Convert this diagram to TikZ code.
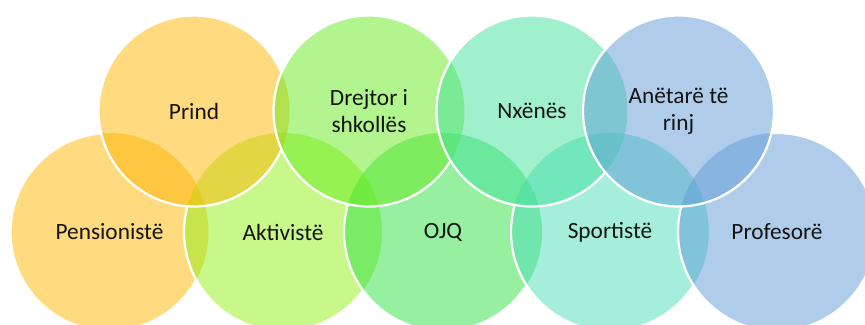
\documentclass[tikz,border=0pt]{standalone}
\usepackage{fontspec}
\setmainfont{Carlito}
\definecolor{cyel}{RGB}{255,181,0}
\definecolor{cakt}{RGB}{145,239,21}
\definecolor{cdre}{RGB}{101,235,31}
\definecolor{cojq}{RGB}{45,225,65}
\definecolor{cnxe}{RGB}{65,225,155}
\definecolor{cspo}{RGB}{75,221,185}
\definecolor{cblu}{RGB}{95,155,215}
\newcommand{\cutaway}[2]{\clip (-50,-50) rectangle (950,400) (#1) circle (#2);}
\begin{document}
\begin{tikzpicture}[x=0.75pt,y=0.75pt,
  blob/.style={fill opacity=0.5},
  ring/.style={draw=white, line width=1.7pt},
  lab/.style={font=\fontsize{17.5}{20}\selectfont, align=center, text=black!92, inner sep=0pt}]
\useasboundingbox (0,0) rectangle (865,325);
\def\rt{95.5}
\def\rb{99}
% coordinates of circle centres
\coordinate (cpen) at (109.5,93);
\coordinate (cakv) at (283,93);
\coordinate (cojqc) at (443,93);
\coordinate (cspt) at (610,93);
\coordinate (cprf) at (777,93);
\coordinate (cprd) at (194,214);
\coordinate (cdrj) at (369,214);
\coordinate (cnxn) at (532,214);
\coordinate (cant) at (678.5,214);
% Pensioniste
\fill[blob, cyel] (cpen) circle (\rb);
\begin{scope}[even odd rule]\cutaway{cakv}{\rb}\cutaway{cprd}{\rt}
\draw[ring] (cpen) circle (\rb);\end{scope}
% Aktiviste
\fill[blob, cakt] (cakv) circle (\rb);
\begin{scope}[even odd rule]\cutaway{cojqc}{\rb}\cutaway{cprd}{\rt}\cutaway{cdrj}{\rt}
\draw[ring] (cakv) circle (\rb);\end{scope}
% OJQ
\fill[blob, cojq] (cojqc) circle (\rb);
\begin{scope}[even odd rule]\cutaway{cspt}{\rb}\cutaway{cdrj}{\rt}\cutaway{cnxn}{\rt}
\draw[ring] (cojqc) circle (\rb);\end{scope}
% Sportiste
\fill[blob, cspo] (cspt) circle (\rb);
\begin{scope}[even odd rule]\cutaway{cprf}{\rb}\cutaway{cnxn}{\rt}\cutaway{cant}{\rt}
\draw[ring] (cspt) circle (\rb);\end{scope}
% Profesore
\fill[blob, cblu] (cprf) circle (\rb);
\begin{scope}[even odd rule]\cutaway{cant}{\rt}
\draw[ring] (cprf) circle (\rb);\end{scope}
% Prind
\fill[blob, cyel] (cprd) circle (\rt);
\begin{scope}[even odd rule]\cutaway{cdrj}{\rt}
\draw[ring] (cprd) circle (\rt);\end{scope}
% Drejtor
\fill[blob, cdre] (cdrj) circle (\rt);
\begin{scope}[even odd rule]\cutaway{cnxn}{\rt}
\draw[ring] (cdrj) circle (\rt);\end{scope}
% Nxenes
\fill[blob, cnxe] (cnxn) circle (\rt);
\begin{scope}[even odd rule]\cutaway{cant}{\rt}
\draw[ring] (cnxn) circle (\rt);\end{scope}
% Anetare
\fill[blob, cblu] (cant) circle (\rt);
\draw[ring] (cant) circle (\rt);
% labels
\node[lab] (tpen) at (cpen) {Pensionistë};
\node[lab] (takv) at (cakv) {Aktivistë};
\node[lab] (tojq) at (cojqc) {OJQ};
\node[lab] (tspt) at (cspt) {Sportistë};
\node[lab] (tprf) at (cprf) {Profesorë};
\node[lab] (tprd) at (cprd) {Prind};
\node[lab] (tdrj) at (cdrj) {Drejtor i\\shkollës};
\node[lab] (tnxn) at (cnxn) {Nxënës};
\node[lab] (tant) at (cant) {Anëtarë të\\rinj};
\end{tikzpicture}
\end{document}
